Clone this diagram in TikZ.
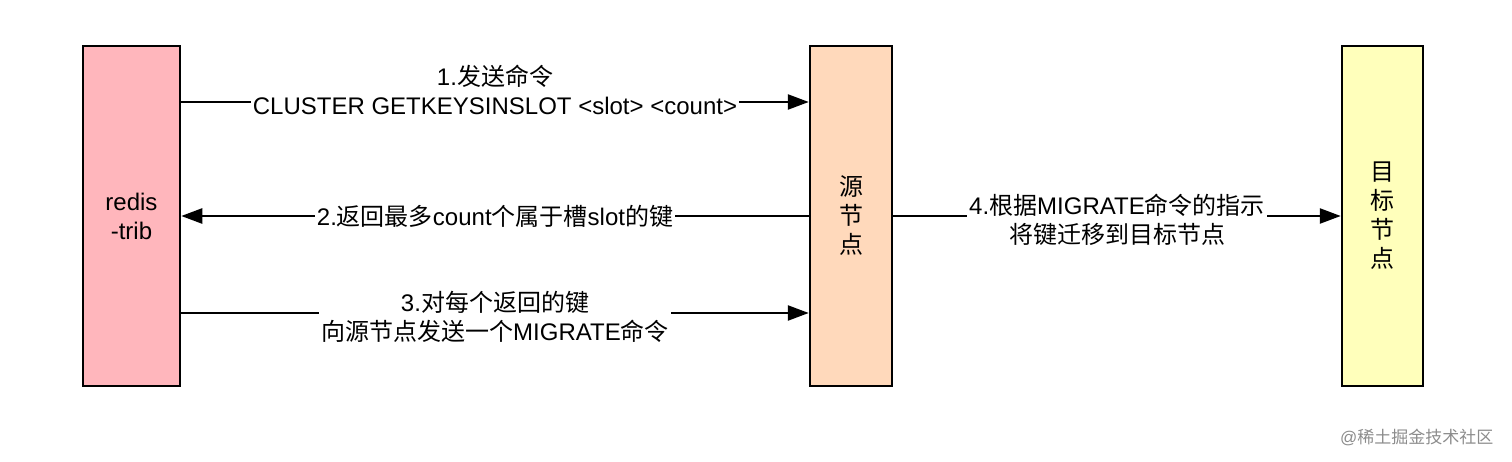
\documentclass[tikz,border=0pt]{standalone}
\usepackage{fontspec}
\setmainfont{Liberation Sans}
\newfontfamily\cjk{Noto Sans CJK SC}
\usetikzlibrary{arrows.meta, positioning}
\definecolor{tribpink}{RGB}{255,182,188}
\definecolor{srcpeach}{RGB}{255,217,187}
\definecolor{dstyellow}{RGB}{255,255,187}

\begin{document}
\begin{tikzpicture}[x=1pt, y=-1pt,
    box/.style={draw, line width=2.5pt, minimum height=340pt, inner sep=0pt,
        font=\fontsize{24}{29}\selectfont, align=center},
    flow/.style={line width=2.5pt, -{Triangle[length=21pt, width=15pt]}},
    lbl/.style={fill=white, inner sep=2pt, font=\fontsize{24}{29}\selectfont, align=center}]
    \useasboundingbox (0,0) rectangle (1512,462);
    % Participants
    \node[box, fill=tribpink, minimum width=97pt] (trib) at (131.5,216) {redis\\-trib};
    \node[box, fill=srcpeach, minimum width=82pt] (src) at (851,216) {\cjk 源\\\cjk 节\\\cjk 点};
    \node[box, fill=dstyellow, minimum width=81pt] (dst) at (1382.5,216) {\cjk 目\\\cjk 标\\\cjk 节\\\cjk 点};
    % Messages
    \draw[flow] (trib.east |- 0,102) -- (src.west |- 0,102)
        node[midway, lbl, yshift=12pt] (m1) {1.{\cjk 发送命令}\\CLUSTER GETKEYSINSLOT <slot> <count>};
    \draw[flow] (src.west) -- (trib.east)
        node[midway, lbl] (m2) {2.{\cjk 返回最多}count{\cjk 个属于槽}slot{\cjk 的键}};
    \draw[flow] (trib.east |- 0,313) -- (src.west |- 0,313)
        node[midway, lbl, yshift=-4pt] (m3) {3.{\cjk 对每个返回的键}\\{\cjk 向源节点发送一个}MIGRATE{\cjk 命令}};
    \draw[flow] (src.east) -- (dst.west)
        node[midway, lbl, yshift=-4pt] (m4) {4.{\cjk 根据}MIGRATE{\cjk 命令的指示}\\{\cjk 将键迁移到目标节点}};
    % Watermark
    \node[text=black!45, font=\fontsize{17}{20}\selectfont, anchor=east] (mark) at (1497,437) {@\cjk 稀土掘金技术社区};
\end{tikzpicture}
\end{document}
